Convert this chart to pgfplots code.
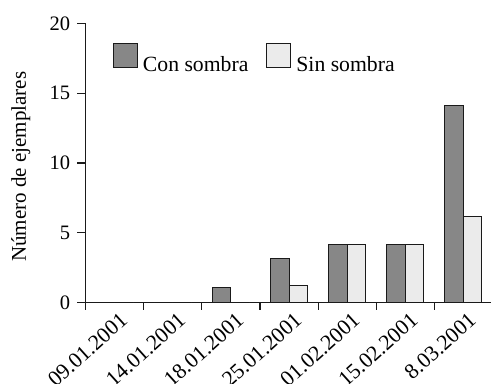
\documentclass[border=0pt]{standalone}
\usepackage{fontspec}
\setmainfont{Liberation Serif}
\usepackage{pgfplots}
\pgfplotsset{compat=1.18}
\definecolor{darkbar}{HTML}{878787}
\definecolor{lightbar}{HTML}{EBEBEB}
\definecolor{edge}{HTML}{1A1A1A}
\begin{document}
\fontsize{20.5bp}{24bp}\selectfont
\begin{tikzpicture}
\begin{axis}[
  at={(85.7bp,81.3bp)}, anchor=south west,
  scale only axis, width=406.7bp, height=279.4bp,
  xmin=-0.5, xmax=6.5, ymin=0, ymax=20,
  axis x line*=bottom, axis y line*=left,
  axis line style={line width=1.1bp, color=edge},
  ybar=0pt, bar width=0.32,
  xtick={0,...,6},
  xticklabels={09.01.2001,14.01.2001,18.01.2001,25.01.2001,01.02.2001,15.02.2001,8.03.2001},
  minor xtick={-0.5,0.5,...,5.5},
  ytick={0,5,10,15,20},
  tick align=outside,
  major tick length=8.5bp, minor tick length=7bp,
  tick style={line width=1.1bp, color=edge},
  major x tick style={draw=none},
  x tick label style={rotate=42, anchor=north east, xshift=10bp, yshift=4bp, font=\fontsize{21.8bp}{24bp}\selectfont},
  /pgf/number format/assume math mode=true,
  ylabel={Número de ejemplares},
  every axis y label/.style={at={(axis description cs:-0.119,0.487)}, rotate=90, anchor=south, font=\fontsize{21bp}{24bp}\selectfont},
  legend style={draw=none, fill=none, at={(axis description cs:0.067,0.9306)}, anchor=north west,
    legend columns=2, inner sep=0pt, outer sep=0pt, font=\fontsize{21.7bp}{24bp}\selectfont,
    /tikz/every odd column/.append style={column sep=3bp},
    /tikz/every even column/.append style={column sep=16bp}},
  legend cell align=left,
  legend image code/.code={\draw[#1, line width=1bp] (0bp,-1.6bp) rectangle (24bp,22.4bp);},
]
\addplot[fill=darkbar, draw=edge, line width=1bp] coordinates {(0,0) (1,0) (2,1.1) (3,3.15) (4,4.2) (5,4.2) (6,14.1)};
\addplot[fill=lightbar, draw=edge, line width=1bp] coordinates {(0,0) (1,0) (2,0) (3,1.2) (4,4.2) (5,4.2) (6,6.15)};
\legend{Con sombra, Sin sombra}
\end{axis}
\pgfresetboundingbox
\useasboundingbox (0,0) rectangle (491bp,384bp);
\end{tikzpicture}
\end{document}
